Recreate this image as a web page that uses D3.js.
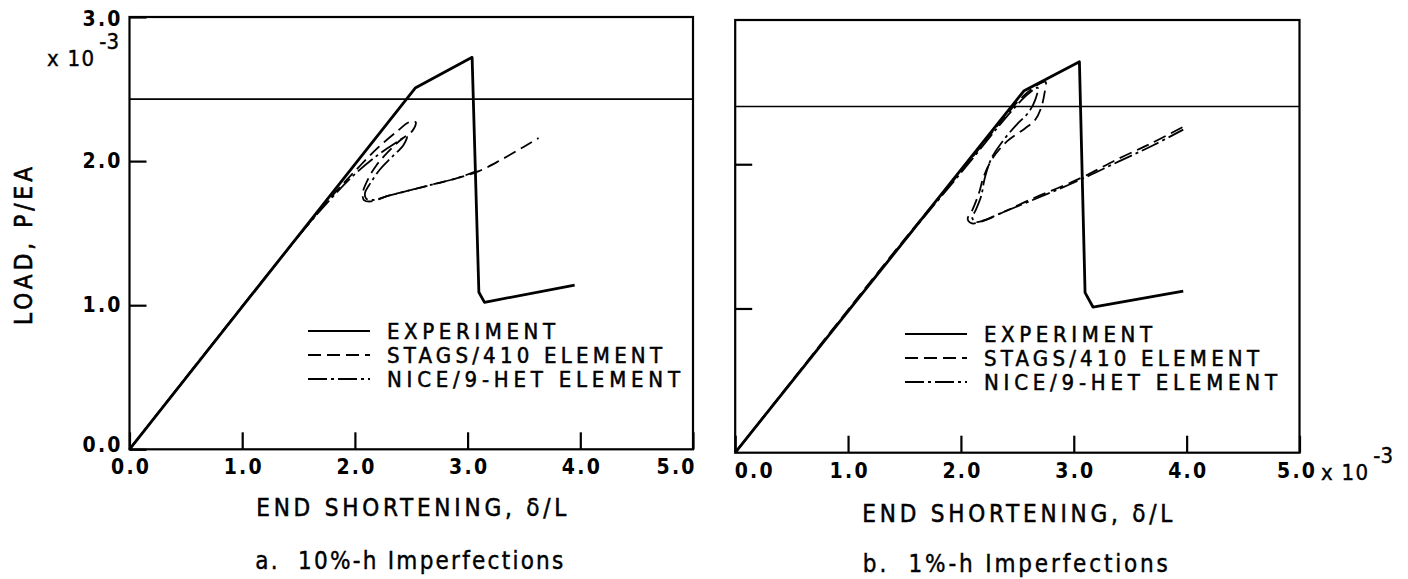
<!DOCTYPE html>
<html>
<head>
<meta charset="utf-8">
<script src="https://cdn.jsdelivr.net/npm/d3@7"></script>
<style>
  body { margin: 0; background: #fff; }
  text { fill: #000; }
</style>
</head>
<body>
<svg id="chart"></svg>
<script>
// Data (x = end shortening x10^-3, y = load P/EA x10^-3)
const xTicks = [0, 1, 2, 3, 4, 5];
const yTicks = [0, 1, 2, 3];
const legendLabels = ["EXPERIMENT", "STAGS/410 ELEMENT", "NICE/9-HET ELEMENT"];
const captions = ["a.  10%-h Imperfections", "b.  1%-h Imperfections"];

const expA = [[0, 0], [2.535, 2.507], [3.04, 2.72], [3.10, 1.09], [3.15, 1.02], [3.95, 1.14]];
const stagsA = [[0, 0], [1.5, 1.48], [1.8, 1.76], [2.0, 1.93], [2.2, 2.09], [2.38, 2.21], [2.48, 2.27],
  [2.54, 2.27], [2.51, 2.21], [2.41, 2.15], [2.29, 2.06], [2.19, 1.97], [2.12, 1.88], [2.07, 1.78],
  [2.08, 1.73], [2.14, 1.72], [2.3, 1.76], [2.5, 1.80], [2.7, 1.84], [2.9, 1.88], [3.1, 1.93],
  [3.3, 2.01], [3.5, 2.10], [3.63, 2.16]];
const niceA = [[0, 0], [1.5, 1.48], [1.8, 1.75], [2.0, 1.91], [2.2, 2.04], [2.35, 2.12], [2.46, 2.17],
  [2.43, 2.11], [2.33, 2.03], [2.22, 1.94], [2.14, 1.85], [2.09, 1.78], [2.1, 1.74], [2.16, 1.73],
  [2.3, 1.76], [2.5, 1.80], [2.7, 1.84], [2.9, 1.88], [3.08, 1.93]];
const refA = 2.43;

const expB = [[0, 0], [2.56, 2.51], [3.05, 2.71], [3.10, 1.11], [3.17, 1.01], [3.97, 1.12]];
const stagsB = [[0, 0], [1.5, 1.48], [2.0, 1.95], [2.4, 2.34], [2.55, 2.47], [2.7, 2.56], [2.75, 2.57],
  [2.74, 2.49], [2.71, 2.39], [2.66, 2.31], [2.57, 2.25], [2.41, 2.16], [2.28, 2.04], [2.2, 1.91],
  [2.16, 1.80], [2.1, 1.68], [2.06, 1.62], [2.1, 1.59], [2.17, 1.60], [2.3, 1.64], [2.6, 1.75],
  [3.05, 1.90], [3.4, 2.04], [3.7, 2.15], [3.97, 2.26]];
const niceB = [[0, 0], [1.5, 1.47], [2.0, 1.94], [2.45, 2.37], [2.6, 2.49], [2.68, 2.53], [2.66, 2.45],
  [2.6, 2.36], [2.5, 2.28], [2.38, 2.17], [2.27, 2.04], [2.21, 1.90], [2.18, 1.78], [2.13, 1.68],
  [2.1, 1.63], [2.13, 1.60], [2.2, 1.61], [2.35, 1.66], [2.6, 1.74], [3.05, 1.89], [3.4, 2.02],
  [3.7, 2.13], [3.97, 2.24]];
const refB = 2.40;

// Layout
const width = 1408;
const height = 579;
const font = "'Liberation Sans Narrow', 'DejaVu Sans Condensed', 'DejaVu Sans', sans-serif";

const svg = d3.select("#chart").attr("width", width).attr("height", height);

const panels = [
  { left: 129.5, right: 693, top: 17, bottom: 449.3, exp: expA, stags: stagsA, nice: niceA, ref: refA,
    yLabels: true, caption: captions[0], legendX: 308, legendY: 331, legendGap: 24,
    titleY: 507, captionY: 560, captionLen: 308 },
  { left: 735.2, right: 1299.5, top: 20, bottom: 452.7, exp: expB, stags: stagsB, nice: niceB, ref: refB,
    yLabels: false, caption: captions[1], legendX: 905, legendY: 334, legendGap: 24,
    titleY: 513, captionY: 563, captionLen: 305 }
];

const styles = [
  { width: 2.8, dash: null },
  { width: 1.8, dash: "13,6" },
  { width: 1.8, dash: "19,4,3,4" }
];
const legendLens = [168, 275, 293];

// Slightly heavier text to match the scanned print
function ink(sel, w) {
  return sel.attr("stroke", "#000").attr("stroke-width", w);
}

panels.forEach((p, pi) => {
  const x = d3.scaleLinear().domain([0, 5]).range([p.left, p.right]);
  const y = d3.scaleLinear().domain([0, 3]).range([p.bottom, p.top]);
  const g = svg.append("g");

  // Frame
  g.append("rect")
    .attr("x", p.left).attr("y", p.top)
    .attr("width", p.right - p.left).attr("height", p.bottom - p.top)
    .attr("fill", "none").attr("stroke", "#000").attr("stroke-width", 2.2);

  // X axis (inward ticks)
  const gx = g.append("g")
    .attr("transform", `translate(0,${p.bottom})`)
    .call(d3.axisBottom(x).tickValues(xTicks).tickSizeInner(-17).tickSizeOuter(0)
      .tickPadding(10).tickFormat(d3.format(".1f")));
  gx.select(".domain").remove();
  gx.selectAll(".tick line").attr("stroke-width", 2.2);
  gx.selectAll(".tick text")
    .attr("font-family", font).attr("font-size", 21).attr("font-weight", "bold")
    .attr("textLength", 38).attr("lengthAdjust", "spacing");
  if (pi === 0) {
    gx.selectAll(".tick text").filter((d) => d === 5).attr("text-anchor", "end").attr("x", 1);
  } else {
    gx.selectAll(".tick text").filter((d) => d === 0).attr("text-anchor", "start").attr("x", -1);
    gx.selectAll(".tick text").filter((d) => d === 5).attr("text-anchor", "end").attr("x", 15);
  }

  // Y axis (inward ticks)
  const gy = g.append("g")
    .attr("transform", `translate(${p.left},0)`)
    .call(d3.axisLeft(y).tickValues(p.yLabels ? yTicks : [1, 2]).tickSizeInner(-17).tickSizeOuter(0)
      .tickPadding(9).tickFormat(p.yLabels ? d3.format(".1f") : () => ""));
  gy.select(".domain").remove();
  gy.selectAll(".tick line").attr("stroke-width", 2.2);
  gy.selectAll(".tick text")
    .attr("font-family", font).attr("font-size", 21).attr("font-weight", "bold")
    .attr("textLength", 38).attr("lengthAdjust", "spacing")
    .attr("y", (d) => (d === 0 ? -5 : d === 3 ? 2 : 0));

  // Reference line
  g.append("line")
    .attr("x1", p.left).attr("x2", p.right)
    .attr("y1", y(p.ref)).attr("y2", y(p.ref))
    .attr("stroke", "#000").attr("stroke-width", 1.6);

  // Curves
  const linear = d3.line().x((d) => x(d[0])).y((d) => y(d[1]));
  const smooth = d3.line().x((d) => x(d[0])).y((d) => y(d[1])).curve(d3.curveCatmullRom.alpha(0.5));
  [p.nice, p.stags].forEach((data, i) => {
    const s = styles[2 - i];
    g.append("path").attr("d", smooth(data))
      .attr("fill", "none").attr("stroke", "#000")
      .attr("stroke-width", s.width).attr("stroke-dasharray", s.dash);
  });
  g.append("path").attr("d", linear(p.exp))
    .attr("fill", "none").attr("stroke", "#000")
    .attr("stroke-width", styles[0].width).attr("stroke-linejoin", "round");

  // Legend
  legendLabels.forEach((label, i) => {
    const ly = p.legendY + i * p.legendGap;
    g.append("line")
      .attr("x1", p.legendX).attr("x2", p.legendX + 62)
      .attr("y1", ly).attr("y2", ly)
      .attr("stroke", "#000").attr("stroke-width", 2.2)
      .attr("stroke-dasharray", styles[i].dash);
    ink(g.append("text"), 0.5)
      .attr("x", p.legendX + 79).attr("y", ly).attr("dy", "0.37em")
      .attr("font-family", font).attr("font-size", 22)
      .attr("textLength", legendLens[i]).attr("lengthAdjust", "spacing")
      .text(label);
  });

  // X title and caption
  const cx = (p.left + p.right) / 2;
  ink(g.append("text"), 0.5)
    .attr("x", cx).attr("y", p.titleY).attr("dy", "0.37em")
    .attr("text-anchor", "middle")
    .attr("font-family", font).attr("font-size", 24)
    .attr("textLength", 310).attr("lengthAdjust", "spacing")
    .text("END SHORTENING, δ/L");
  ink(g.append("text"), 0.4)
    .attr("x", cx - 2).attr("y", p.captionY).attr("dy", "0.37em")
    .attr("text-anchor", "middle")
    .attr("font-family", font).attr("font-size", 24)
    .attr("textLength", p.captionLen).attr("lengthAdjust", "spacing")
    .attr("xml:space", "preserve")
    .text(p.caption);
});

// Y title
ink(svg.append("text"), 0.6)
  .attr("transform", "translate(23,246) rotate(-90)")
  .attr("dy", "0.37em")
  .attr("text-anchor", "middle")
  .attr("font-family", font).attr("font-size", 24)
  .attr("textLength", 158).attr("lengthAdjust", "spacing")
  .text("LOAD, P/EA");

// Exponent notes
function exponent(xPos, yPos) {
  const t = ink(svg.append("text"), 0.4)
    .attr("x", xPos).attr("y", yPos)
    .attr("font-family", font).attr("font-size", 22);
  t.append("tspan").attr("textLength", 47).attr("lengthAdjust", "spacing").text("x 10");
  t.append("tspan").attr("dx", 4).attr("dy", -17).text("-3");
}
exponent(47, 66);
exponent(1321, 480);
</script>
</body>
</html>
